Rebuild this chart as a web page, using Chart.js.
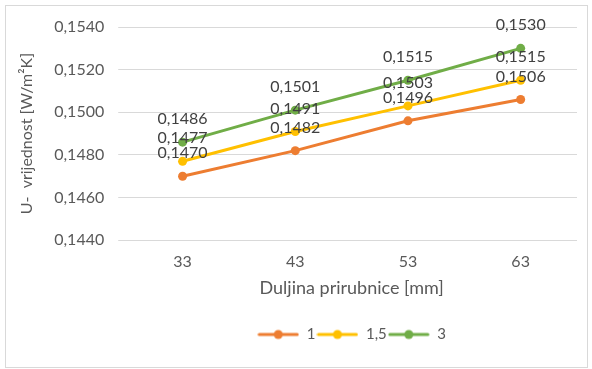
<!DOCTYPE html>
<html>
<head>
<meta charset="utf-8">
<script src="https://cdn.jsdelivr.net/npm/chart.js@4"></script>
<style>
  body { margin: 0; background: #fff; }
  #wrap { position: relative; width: 592px; height: 369px; }
  #frame { position: absolute; left: 5px; top: 5px; width: 581px; height: 361px; border: 1px solid #d9d9d9; pointer-events: none; }
  canvas { position: absolute; left: 0; top: 0; }
</style>
</head>
<body>
<div id="wrap">
  <canvas id="myChart" width="592" height="369"></canvas>
  <div id="frame"></div>
</div>
<script>
const categories = ['33', '43', '53', '63'];
const seriesNames = ['1', '1,5', '3'];
const values1 = [0.1470, 0.1482, 0.1496, 0.1506];
const values15 = [0.1477, 0.1491, 0.1503, 0.1515];
const values3 = [0.1486, 0.1501, 0.1515, 0.1530];
const yTicks = [0.1440, 0.1460, 0.1480, 0.1500, 0.1520, 0.1540];
const colors = ['#ED7D31', '#FFC000', '#70AD47'];

const fmt = v => v.toFixed(4).replace('.', ',');
const font = "Lato, 'Open Sans', sans-serif";

// legend marker: short line with a dot
function legendIcon(color) {
    const c = document.createElement('canvas');
    c.width = 42; c.height = 12;
    const g = c.getContext('2d');
    g.strokeStyle = color;
    g.lineWidth = 3;
    g.lineCap = 'round';
    g.beginPath(); g.moveTo(2, 6); g.lineTo(40, 6); g.stroke();
    g.fillStyle = color;
    g.beginPath(); g.arc(21, 6, 4.5, 0, Math.PI * 2); g.fill();
    return c;
}

// value labels above each point
const valueLabels = {
    id: 'valueLabels',
    afterDatasetsDraw(chart) {
        const c = chart.ctx;
        c.save();
        c.font = '16px ' + font;
        c.fillStyle = '#404040';
        c.textAlign = 'center';
        c.textBaseline = 'bottom';
        chart.data.datasets.forEach((ds, i) => {
            chart.getDatasetMeta(i).data.forEach((pt, j) => {
                c.fillText(fmt(ds.data[j]), pt.x, pt.y - 15);
            });
        });
        c.restore();
    }
};

const allValues = [values1, values15, values3];
const ctx = document.getElementById('myChart');
new Chart(ctx, {
    type: 'line',
    data: {
        labels: categories,
        datasets: seriesNames.map((name, i) => ({
            label: name,
            data: allValues[i],
            borderColor: colors[i],
            backgroundColor: colors[i],
            borderWidth: 3,
            pointRadius: 4.5,
            pointBackgroundColor: colors[i],
            pointBorderWidth: 0,
            tension: 0
        }))
    },
    options: {
        responsive: false,
        animation: false,
        layout: { padding: { left: 13, right: 15, top: 27, bottom: 17 } },
        plugins: {
            legend: {
                position: 'bottom',
                fullSize: false,
                labels: {
                    usePointStyle: true,
                    pointStyleWidth: 42,
                    boxHeight: 12,
                    color: '#595959',
                    font: { size: 15, family: font },
                    padding: 1,
                    generateLabels(chart) {
                        return chart.data.datasets.map((ds, i) => ({
                            text: ds.label,
                            pointStyle: legendIcon(colors[i]),
                            fontColor: '#595959',
                            datasetIndex: i,
                            hidden: false,
                            lineWidth: 0
                        }));
                    }
                }
            },
            tooltip: { enabled: false }
        },
        scales: {
            x: {
                offset: true,
                grid: { display: false },
                border: { display: false },
                ticks: { color: '#595959', font: { size: 16, family: font }, padding: 4 },
                title: { display: true, text: 'Duljina prirubnice [mm]', color: '#595959', font: { size: 18, family: font }, padding: { top: 2, bottom: 27 } }
            },
            y: {
                min: yTicks[0],
                max: yTicks[yTicks.length - 1],
                afterBuildTicks(axis) { axis.ticks = yTicks.map(v => ({ value: v })); },
                grid: { color: '#d9d9d9', lineWidth: 1 },
                border: { display: false },
                ticks: { color: '#595959', font: { size: 16, family: font }, padding: 14, callback: v => fmt(v) },
                title: { display: true, text: 'U-  vrijednost [W/m²K]', color: '#595959', font: { size: 16, family: font } }
            }
        }
    },
    plugins: [valueLabels]
});
</script>
</body>
</html>
